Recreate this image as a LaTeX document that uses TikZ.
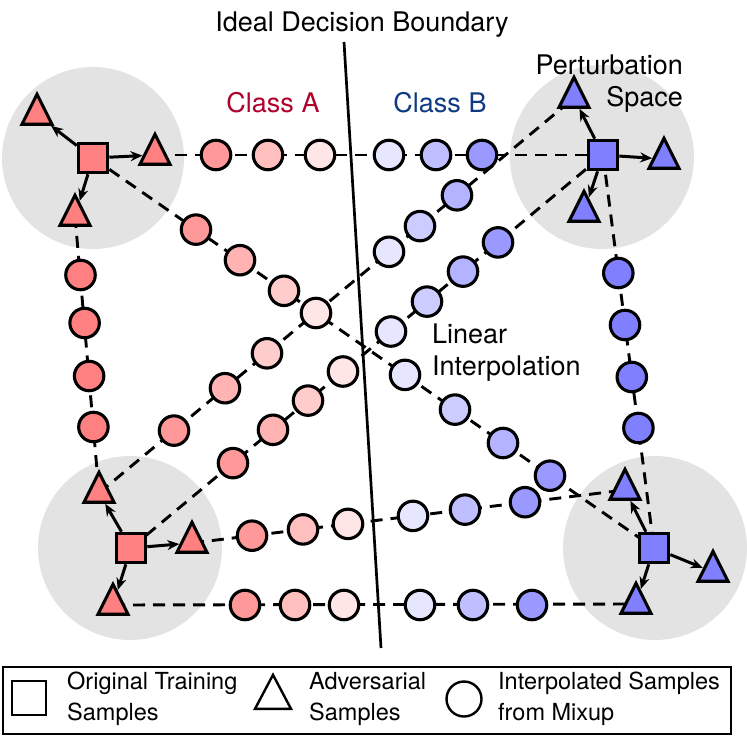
\documentclass[tikz,border=0pt]{standalone}
\usepackage{fontspec}
\setmainfont{TeX Gyre Heros}
\usetikzlibrary{shapes.geometric,arrows.meta}
\definecolor{redA}{HTML}{FF8080}
\definecolor{blueB}{HTML}{8080FF}
\definecolor{classA}{HTML}{B0002C}
\definecolor{classB}{HTML}{0F3A82}
\definecolor{spacegray}{HTML}{E3E3E3}
\pgfdeclarelayer{back}
\pgfdeclarelayer{mid}
\pgfsetlayers{back,mid,main}
\tikzset{
  sample/.style={draw, line width=3.1pt, inner sep=0pt},
  orig/.style={sample, rectangle, minimum size=29.5pt},
  adv/.style={sample, isosceles triangle, isosceles triangle stretches, shape border rotate=90, minimum width=30pt, minimum height=30pt},
  mix/.style={sample, circle, minimum size=29.5pt},
  interp/.style={line width=2.9pt, dash pattern=on 12pt off 8pt},
  perturb/.style={->, line width=3pt},
  note/.style={inner sep=0pt, font=\fontsize{27}{32}\selectfont},
  keytext/.style={inner sep=0pt, align=left, font=\fontsize{23.5}{31}\selectfont},
}
\begin{document}
\begin{tikzpicture}[x=1pt,y=-1pt,>={Stealth[length=12pt,width=10pt]}]
  \useasboundingbox (0,0) rectangle (747,736);

  % Perturbation spaces
  \begin{pgfonlayer}{back}
    \fill[spacegray] (93,158) circle (91);
    \fill[spacegray] (602,157) circle (92);
    \fill[spacegray] (130,548) circle (92);
    \fill[spacegray] (655,548) circle (92);
  \end{pgfonlayer}

  % Titles
  \node[note, anchor=base] (boundaryLabel) at (362,31) {Ideal Decision Boundary};
  \node[note, anchor=base, text=classA] (classALabel) at (273,112) {Class A};
  \node[note, anchor=base, text=classB] (classBLabel) at (440,112) {Class B};
  \node[note, anchor=base east, align=right] (spaceLabel) at (683,106) {Perturbation\\Space};
  \node[note, anchor=base west, align=left] (interpLabel) at (432,375) {Linear\\Interpolation};

  % Decision boundary
  \coordinate (bdTop) at (344,42);
  \coordinate (bdBot) at (381,648);
  \draw[line width=2.7pt] (bdTop) -- (bdBot);

  % Original training samples
  \node[orig, fill=redA] (sqTL) at (93,158) {};
  \node[orig, fill=redA] (sqBL) at (131,548) {};
  \node[orig, fill=blueB] (sqTR) at (603,155) {};
  \node[orig, fill=blueB] (sqBR) at (654,548) {};

  % Adversarial samples
  \node[adv, fill=redA] (advTL1) at (37,115) {};
  \node[adv, fill=redA] (advTL2) at (155,155) {};
  \node[adv, fill=redA] (advTL3) at (75,216) {};
  \node[adv, fill=redA] (advBL1) at (99,493) {};
  \node[adv, fill=redA] (advBL2) at (192,543) {};
  \node[adv, fill=redA] (advBL3) at (113,605) {};
  \node[adv, fill=blueB] (advTR1) at (574,98) {};
  \node[adv, fill=blueB] (advTR2) at (664,159) {};
  \node[adv, fill=blueB] (advTR3) at (584,212) {};
  \node[adv, fill=blueB] (advBR1) at (625,490) {};
  \node[adv, fill=blueB] (advBR2) at (713,572) {};
  \node[adv, fill=blueB] (advBR3) at (636,604) {};

  % Perturbation arrows
  \draw[perturb] (sqTL) -- (advTL1);
  \draw[perturb] (sqTL) -- (advTL2);
  \draw[perturb] (sqTL) -- (advTL3);
  \draw[perturb] (sqTR) -- (advTR1);
  \draw[perturb] (sqTR) -- (advTR2);
  \draw[perturb] (sqTR) -- (advTR3);
  \draw[perturb] (sqBL) -- (advBL1);
  \draw[perturb] (sqBL) -- (advBL2);
  \draw[perturb] (sqBL) -- (advBL3);
  \draw[perturb] (sqBR) -- (advBR1);
  \draw[perturb] (sqBR) -- (advBR2);
  \draw[perturb] (sqBR) -- (advBR3);

  % Mixup: top row
  \node[mix, fill=redA!80] (mixT1) at (216,155) {};
  \node[mix, fill=redA!50] (mixT2) at (268,155) {};
  \node[mix, fill=redA!20] (mixT3) at (320,155) {};
  \node[mix, fill=blueB!20] (mixT4) at (389,155) {};
  \node[mix, fill=blueB!50] (mixT5) at (436,155) {};
  \node[mix, fill=blueB!80] (mixT6) at (482,155) {};

  % Mixup: falling diagonal
  \node[mix, fill=redA!80] (mixA1) at (196,229.6) {};
  \node[mix, fill=redA!60] (mixA2) at (240,260.2) {};
  \node[mix, fill=redA!40] (mixA3) at (284,290.8) {};
  \node[mix, fill=redA!20] (mixA4) at (316,313) {};
  \node[mix, fill=blueB!20] (mixA5) at (405,374.9) {};
  \node[mix, fill=blueB!40] (mixA6) at (455,409.6) {};
  \node[mix, fill=blueB!60] (mixA7) at (503,443) {};
  \node[mix, fill=blueB!80] (mixA8) at (550,475.7) {};

  % Mixup: rising diagonal (triangle to triangle)
  \node[mix, fill=redA!80] (mixB1) at (174,430.6) {};
  \node[mix, fill=redA!60] (mixB2) at (225,388.2) {};
  \node[mix, fill=redA!40] (mixB3) at (267,353.3) {};
  \node[mix, fill=blueB!20] (mixB4) at (389,251.8) {};
  \node[mix, fill=blueB!40] (mixB5) at (420,226.1) {};
  \node[mix, fill=blueB!60] (mixB6) at (457,195.3) {};

  % Mixup: rising diagonal (square to square)
  \node[mix, fill=redA!80] (mixC1) at (233,463.1) {};
  \node[mix, fill=redA!60] (mixC2) at (273,429.8) {};
  \node[mix, fill=redA!40] (mixC3) at (308,400.6) {};
  \node[mix, fill=redA!20] (mixC4) at (343,371.5) {};
  \node[mix, fill=blueB!20] (mixC5) at (391,331.5) {};
  \node[mix, fill=blueB!40] (mixC6) at (427,301.6) {};
  \node[mix, fill=blueB!60] (mixC7) at (463,271.6) {};
  \node[mix, fill=blueB!80] (mixC8) at (498,242.4) {};

  % Mixup: lower rows
  \node[mix, fill=redA!80] (mixD1) at (252,535.7) {};
  \node[mix, fill=redA!50] (mixD2) at (303,529.4) {};
  \node[mix, fill=redA!20] (mixD3) at (348,523.9) {};
  \node[mix, fill=blueB!20] (mixD4) at (413,515.9) {};
  \node[mix, fill=blueB!50] (mixD5) at (465,509.6) {};
  \node[mix, fill=blueB!80] (mixD6) at (525,502.2) {};
  \node[mix, fill=redA!80] (mixE1) at (245,605) {};
  \node[mix, fill=redA!50] (mixE2) at (295,605) {};
  \node[mix, fill=redA!20] (mixE3) at (344,605) {};
  \node[mix, fill=blueB!20] (mixE4) at (420,605) {};
  \node[mix, fill=blueB!50] (mixE5) at (473,605) {};
  \node[mix, fill=blueB!80] (mixE6) at (532,605) {};

  % Mixup: within one class
  \node[mix, fill=redA] (mixF1) at (80.5,275) {};
  \node[mix, fill=redA] (mixF2) at (84.6,323) {};
  \node[mix, fill=redA] (mixF3) at (89.1,376) {};
  \node[mix, fill=redA] (mixF4) at (93.4,427) {};
  \node[mix, fill=blueB] (mixG1) at (618.3,273) {};
  \node[mix, fill=blueB] (mixG2) at (625,325) {};
  \node[mix, fill=blueB] (mixG3) at (631.8,377) {};
  \node[mix, fill=blueB] (mixG4) at (638.4,428) {};

  % Interpolation lines
  \begin{pgfonlayer}{mid}
    \draw[interp] (advTL2.center) -- (sqTR.center);
    \draw[interp] (sqTL.center) -- (sqBR.center);
    \draw[interp] (advBL1.center) -- (advTR1.center);
    \draw[interp] (sqBL.center) -- (sqTR.center);
    \draw[interp] (advBL2.center) -- (advBR1.center);
    \draw[interp] (advBL3.center) -- (advBR3.center);
    \draw[interp] (advTL3.center) -- (advBL1.center);
    \draw[interp] (sqTR.center) -- (sqBR.center);
  \end{pgfonlayer}

  % Legend
  \draw[line width=2.2pt] (3,667) rectangle (731,734);
  \node[orig, line width=2.4pt, minimum size=34pt] (keyOrig) at (29,698) {};
  \node[keytext, anchor=west] (keyOrigText) at (67,699) {Original Training\\Samples};
  \node[adv, line width=2.4pt, minimum width=36pt, minimum height=34pt] (keyAdv) at (273,698) {};
  \node[keytext, anchor=west] (keyAdvText) at (309,699) {Adversarial\\Samples};
  \node[mix, line width=2.4pt, minimum size=35pt] (keyMix) at (464,699) {};
  \node[keytext, anchor=west] (keyMixText) at (498,699) {Interpolated Samples\\from Mixup};
\end{tikzpicture}
\end{document}
